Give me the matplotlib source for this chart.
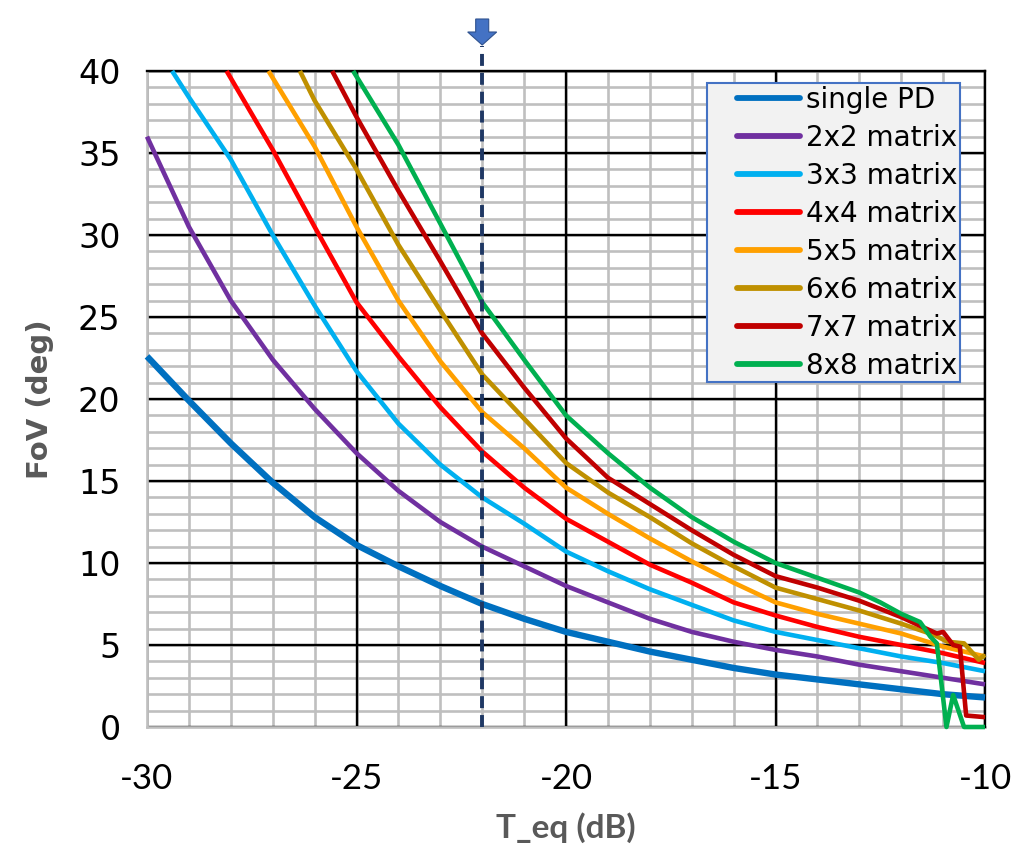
import matplotlib
matplotlib.use("Agg")
import matplotlib.pyplot as plt
from matplotlib.patches import Polygon, Rectangle
from matplotlib.legend_handler import HandlerLine2D

# ---- data -------------------------------------------------------------
single_pd_x = [-30, -29, -28, -27, -26, -25, -24, -23, -22, -21, -20,
               -19, -18, -17, -16, -15, -14, -13, -12, -11, -10]
single_pd_y = [22.6, 19.9, 17.3, 14.9, 12.8, 11.1, 9.8, 8.6, 7.5, 6.6, 5.8,
               5.2, 4.6, 4.1, 3.6, 3.2, 2.9, 2.6, 2.3, 2.0, 1.8]

m2_x = [-30, -29, -28, -27, -26, -25, -24, -23, -22, -21, -20,
        -19, -18, -17, -16, -15, -14, -13, -12, -11, -10]
m2_y = [36.0, 30.5, 26.0, 22.4, 19.4, 16.7, 14.4, 12.5, 11.0, 9.8, 8.6,
        7.6, 6.6, 5.8, 5.2, 4.7, 4.3, 3.8, 3.4, 3.0, 2.6]

m3_x = [-29.4, -29, -28, -27, -26, -25, -24, -23, -22, -21, -20,
        -19, -18, -17, -16, -15, -14, -13, -12, -11, -10]
m3_y = [40.0, 38.4, 34.6, 30.0, 25.7, 21.7, 18.5, 16.0, 14.0, 12.4, 10.7,
        9.5, 8.4, 7.45, 6.5, 5.8, 5.3, 4.8, 4.3, 3.9, 3.4]

m4_x = [-28.1, -27, -26, -25, -24, -23, -22, -21, -20,
        -19, -18, -17, -16, -15, -14, -13, -12, -11, -10]
m4_y = [40.0, 35.2, 30.5, 25.9, 22.6, 19.5, 16.8, 14.6, 12.7,
        11.3, 9.9, 8.8, 7.6, 6.8, 6.1, 5.5, 5.0, 4.5, 3.9]

m5_x = [-27.1, -26, -25, -24, -23, -22, -21, -20,
        -19, -18, -17, -16, -15, -14, -13, -12, -11, -10.5, -10]
m5_y = [40.0, 35.4, 30.5, 26.0, 22.3, 19.2, 17.0, 14.6,
        13.0, 11.5, 10.1, 8.8, 7.6, 6.9, 6.3, 5.7, 4.9, 4.6, 4.3]

m6_x = [-26.35, -26, -25, -24, -23, -22, -21, -20,
        -19, -18, -17, -16, -15, -14, -13, -12, -11.2, -10.9, -10.5, -10.15, -10]
m6_y = [40.0, 38.2, 34.0, 29.4, 25.4, 21.5, 18.8, 16.1,
        14.3, 12.8, 11.2, 9.8, 8.5, 7.8, 7.1, 6.3, 5.6, 5.2, 5.1, 4.1, 4.4]

m7_x = [-25.58, -25, -24, -23, -22, -21, -20, -19, -18, -17, -16,
        -15, -14, -13, -12, -11.15, -11.0, -10.76, -10.6, -10.45, -10]
m7_y = [40.0, 37.2, 32.7, 28.4, 24.0, 20.7, 17.6, 15.2, 13.6, 12.0, 10.5,
        9.2, 8.5, 7.7, 6.7, 5.7, 5.8, 5.0, 4.9, 0.7, 0.6]

m8_x = [-25.08, -24, -23, -22, -21, -20, -19, -18, -17, -16, -15,
        -14, -13, -12.5, -12, -11.55, -11.3, -11.15, -10.92, -10.76, -10.5, -10]
m8_y = [40.0, 35.5, 30.7, 25.9, 22.4, 19.0, 16.7, 14.6, 12.8, 11.3, 10.0,
        9.1, 8.2, 7.6, 6.9, 6.4, 5.5, 5.1, 0.0, 1.95, 0.0, 0.0]

series_labels = ["single PD", "2x2 matrix", "3x3 matrix", "4x4 matrix",
                 "5x5 matrix", "6x6 matrix", "7x7 matrix", "8x8 matrix"]
series_colors = ["#0070C0", "#7030A0", "#00B0F0", "#FF0000",
                 "#FFA000", "#BF9000", "#C00000", "#00B050"]

marker_teq = -22.0

x_ticks = [-30, -25, -20, -15, -10]
y_ticks = [0, 5, 10, 15, 20, 25, 30, 35, 40]
x_minor = list(range(-30, -9))
y_minor = list(range(0, 41))

# ---- figure -----------------------------------------------------------
plt.rcParams["lines.scale_dashes"] = False
W, H = 1018, 850
fig = plt.figure(figsize=(W / 100, H / 100), dpi=100)
AX_L, AX_R, AX_T, AX_B = 147, 985, 71, 727
ax = fig.add_axes([AX_L / W, 1 - AX_B / H, (AX_R - AX_L) / W, (AX_B - AX_T) / H])
ax.set_xlim(-30, -10)
ax.set_ylim(0, 40)

# grid: light lines every unit, black lines every 5 units on top of them
ax.vlines(x_minor, 0, 40, colors="#BFBFBF", linewidth=1.9, zorder=0.2)
ax.hlines(y_minor, -30, -10, colors="#BFBFBF", linewidth=1.9, zorder=0.2)
ax.vlines(x_ticks, 0, 40, colors="black", linewidth=1.7, zorder=0.4)
ax.hlines(y_ticks, -30, -10, colors="black", linewidth=1.7, zorder=0.4)

for side in ["top", "right"]:
    ax.spines[side].set_color("black")
    ax.spines[side].set_linewidth(1.7)
for side in ["left", "bottom"]:
    ax.spines[side].set_color("#BFBFBF")
    ax.spines[side].set_linewidth(1.9)
    ax.spines[side].set_zorder(0.6)

ax.tick_params(which="both", length=0)
ax.tick_params(axis="y", pad=19)
ax.tick_params(axis="x", pad=26)
ax.set_xticks(x_ticks)
ax.set_yticks(y_ticks)
ax.set_xticklabels([f"{v:d}" for v in x_ticks], family=["Lato", "DejaVu Sans"], fontsize=25)
ax.set_yticklabels([f"{v:d}" for v in y_ticks], family="DejaVu Sans", fontsize=24)

ax.set_xlabel("T_eq (dB)", family=["Lato", "DejaVu Sans"], fontsize=24,
              fontweight="bold", color="#595959")
ax.xaxis.set_label_coords(0.5, (AX_B - 812) / (AX_B - AX_T))
ax.set_ylabel("FoV (deg)", family="DejaVu Sans", fontsize=21,
              fontweight="bold", color="#595959")
ax.yaxis.set_label_coords((54 - AX_L) / (AX_R - AX_L), 0.5)

xs = [single_pd_x, m2_x, m3_x, m4_x, m5_x, m6_x, m7_x, m8_x]
ys = [single_pd_y, m2_y, m3_y, m4_y, m5_y, m6_y, m7_y, m8_y]
for i, (x, y, lab, col) in enumerate(zip(xs, ys, series_labels, series_colors)):
    lw = 4.6 if i == 0 else 3.3
    ax.plot(x, y, color=col, linewidth=lw, label=lab, zorder=3 + i,
            solid_joinstyle="round", solid_capstyle="butt", clip_on=False)


def dx(p):
    return p * 20.0 / (AX_R - AX_L)


def dy(p):
    return p * 40.0 / (AX_B - AX_T)


# vertical reference at the chosen T_eq, extended above the plot
ax.plot([marker_teq, marker_teq], [0, 40 + dy(AX_T - 46)], color="#1F3864",
        linewidth=2.8, linestyle=(0, (8.6, 5.0)), zorder=12, clip_on=False)

# block arrow pointing down onto the reference line
top = 40 + dy(AX_T - 19)
neck = 40 + dy(AX_T - 32)
tip = 40 + dy(AX_T - 45)
arrow = Polygon([
    (marker_teq - dx(6.5), top), (marker_teq + dx(6.5), top),
    (marker_teq + dx(6.5), neck), (marker_teq + dx(14.5), neck),
    (marker_teq, tip),
    (marker_teq - dx(14.5), neck), (marker_teq - dx(6.5), neck)],
    closed=True, facecolor="#4472C4", edgecolor="#2F528F", linewidth=0.8,
    clip_on=False, zorder=13)
ax.add_patch(arrow)

# legend box
LG_L, LG_R, LG_T, LG_B = 707, 960, 83, 382


def to_ax(px, py):
    return (px - AX_L) / (AX_R - AX_L), (AX_B - py) / (AX_B - AX_T)


bx0, by0 = to_ax(LG_L, LG_B)
bx1, by1 = to_ax(LG_R, LG_T)
ax.add_patch(Rectangle((bx0, by0), bx1 - bx0, by1 - by0, transform=ax.transAxes,
                       facecolor="#F2F2F2", edgecolor="#4472C4", linewidth=1.5,
                       zorder=15, clip_on=False))


class RoundHandle(HandlerLine2D):
    def create_artists(self, legend, orig_handle, xdescent, ydescent,
                       width, height, fontsize, trans):
        arts = super().create_artists(legend, orig_handle, xdescent, ydescent,
                                      width, height, fontsize, trans)
        for a in arts:
            a.set_linewidth(4.2)
            a.set_solid_capstyle("round")
        return arts


ancx, ancy = to_ax(737, 86)
leg = ax.legend(loc="upper left", bbox_to_anchor=(ancx, ancy),
                prop={"family": "DejaVu Sans", "size": 20},
                frameon=False, handlelength=2.25, handletextpad=0.25,
                labelspacing=0.36, borderpad=0.0, borderaxespad=0,
                handler_map={matplotlib.lines.Line2D: RoundHandle()})
leg.set_zorder(20)

fig.savefig("out.png", dpi=100)
